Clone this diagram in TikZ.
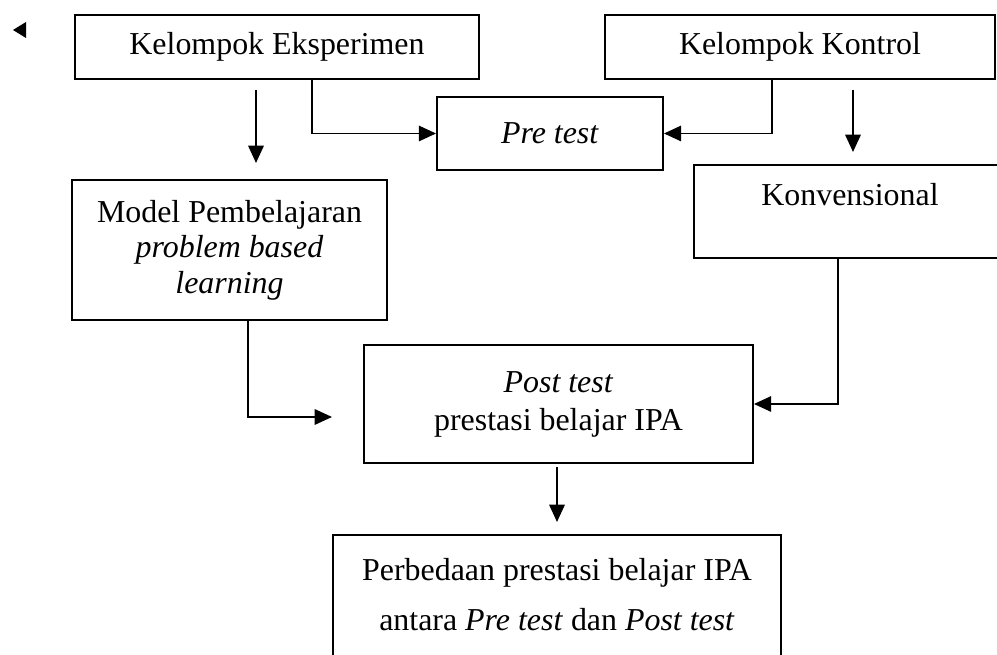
\documentclass[tikz,border=0pt]{standalone}
\usepackage{fontspec}
\setmainfont{Liberation Serif}
\usetikzlibrary{arrows.meta}
\newcommand{\satuan}{0.376pt}
\tikzset{
  kotak/.style={draw, line width=0.7pt, inner sep=0pt, align=center},
  panah/.style={line width=0.7pt, -{Triangle[length=6.5pt,width=5.8pt]}},
}
\begin{document}
\begin{tikzpicture}[x=\satuan, y=-\satuan, font=\fontsize{12}{13.4}\selectfont]
\clip (0,0) rectangle (997,655);
% kotak
\node[kotak, minimum width=404*\satuan, minimum height=64*\satuan] (eksp) at (277,47) {Kelompok Eksperimen};
\node[kotak, minimum width=390*\satuan, minimum height=64*\satuan] (kontrol) at (800,47) {Kelompok Kontrol};
\node[kotak, minimum width=226*\satuan, minimum height=73*\satuan] (pre) at (550,133.5) {\textit{Pre test}};
\node[kotak, minimum width=315*\satuan, minimum height=140*\satuan] (model) at (229.5,250) {Model Pembelajaran\\ \textit{problem based}\\ \textit{learning}};
\node[kotak, minimum width=340*\satuan, minimum height=93*\satuan] (konv) at (864,211.5) {};
\node (konvteks) at (850,195) {Konvensional};
\node[kotak, minimum width=389*\satuan, minimum height=118*\satuan, font=\fontsize{12}{14.3}\selectfont] (post) at (558.5,404) {\textit{Post test}\\ prestasi belajar IPA};
\node[kotak, minimum width=448*\satuan, minimum height=140*\satuan] (beda) at (557,605) {};
\node[align=center, font=\fontsize{12}{18.8}\selectfont] (bedateks) at (557,595) {Perbedaan prestasi belajar IPA\\ antara \textit{Pre test} dan \textit{Post test}};
% ujung bebas
\coordinate (e1) at (256,90);
\coordinate (e2) at (256,163);
\coordinate (k1) at (853,90);
\coordinate (k2) at (853,152);
\coordinate (m2) at (332,417);
\coordinate (p1) at (557,467);
\coordinate (p2) at (557,522);
% panah
\draw[panah] ([xshift=35*\satuan]eksp.south) |- (pre.west);
\draw[panah] ([xshift=-28*\satuan]kontrol.south) |- (pre.east);
\draw[panah] (e1) -- (e2);
\draw[panah] (k1) -- (k2);
\draw[panah] ([xshift=-26*\satuan]konv.south) |- (post.east);
\draw[panah] ([xshift=18.5*\satuan]model.south) |- (m2);
\draw[panah] (p1) -- (p2);
\fill (26,22) -- (13,30) -- (26,38) -- cycle;
\end{tikzpicture}
\end{document}
